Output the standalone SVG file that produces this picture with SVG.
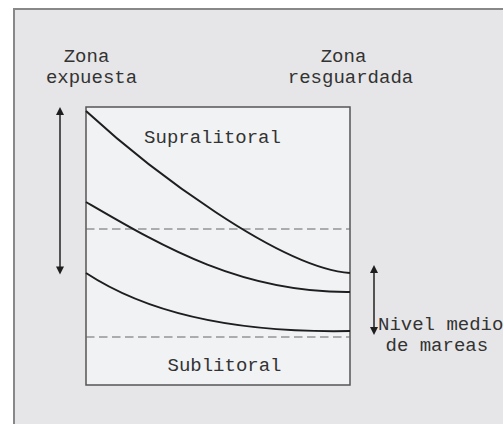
<svg xmlns="http://www.w3.org/2000/svg" width="503" height="424" viewBox="0 0 503 424">
<defs>
<style>
text{font-family:"Liberation Mono","Courier New",monospace;font-size:19px;fill:#333}
.c{fill:none;stroke:#1e1e1e;stroke-width:2}
.d{fill:none;stroke:#666;stroke-width:1.2;stroke-dasharray:8.5 4.5}
.a{stroke:#222;stroke-width:1.5}
.h{fill:#1e1e1e}
</style>
</defs>
<rect x="0" y="0" width="503" height="424" fill="#ffffff"/>
<rect x="14" y="9" width="500" height="430" fill="#e6e6e8" stroke="#888" stroke-width="2"/>
<g id="box">
<rect x="86" y="107" width="264" height="278" fill="#f1f2f4" stroke="#555" stroke-width="1.5"/>
</g>
<g id="labels">
<text x="86.5" y="62" text-anchor="middle">Zona</text>
<text x="91.5" y="83" text-anchor="middle">expuesta</text>
<text x="343.5" y="62" text-anchor="middle">Zona</text>
<text x="350.5" y="83" text-anchor="middle">resguardada</text>
<text x="212.5" y="143" text-anchor="middle">Supralitoral</text>
<text x="224.5" y="371" text-anchor="middle">Sublitoral</text>
<text x="378" y="330">Nivel medio</text>
<text x="385.5" y="351">de mareas</text>
</g>
<g id="connectors">
<path class="d" d="M86,229H350"/>
<path class="d" d="M86,337H350"/>
<path class="c" d="M86,111 C150,170 280,268 350,273"/>
<path class="c" d="M86,202 C160,245 240,293 350,292"/>
<path class="c" d="M86,273 C150,315 240,333 350,331"/>
<line class="a" x1="60" y1="114" x2="60" y2="267"/>
<path class="h" d="M60,107 L64,115 L56,115Z"/>
<path class="h" d="M60,274.5 L64,266.5 L56,266.5Z"/>
<line class="a" x1="374" y1="272" x2="374" y2="327"/>
<path class="h" d="M374,265 L378,273 L370,273Z"/>
<path class="h" d="M374,335 L378,327 L370,327Z"/>
</g>
</svg>
